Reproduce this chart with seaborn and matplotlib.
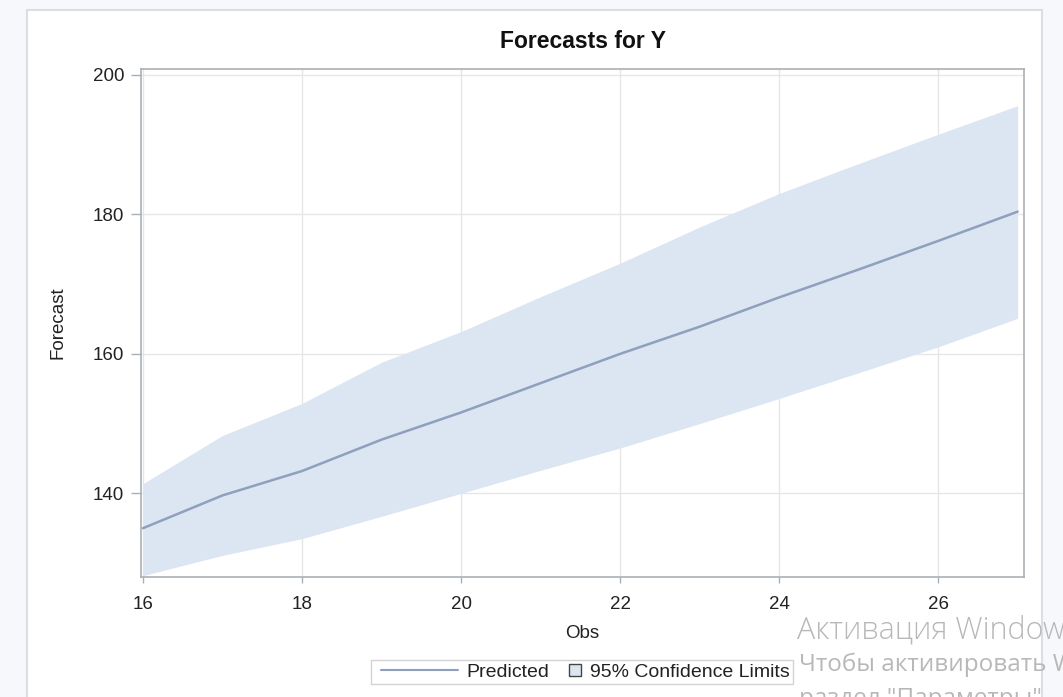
import matplotlib
matplotlib.use("Agg")
import matplotlib.pyplot as plt
import matplotlib.patches as mpatches
from matplotlib.lines import Line2D
from matplotlib.legend_handler import HandlerBase
import seaborn as sns
import pandas as pd

obs = [16, 17, 18, 19, 20, 21, 22, 23, 24, 25, 26, 27]
predicted = [135.0, 139.7, 143.2, 147.7, 151.6, 155.8, 160.0, 163.9, 168.1, 172.1, 176.2, 180.4]
upper = [141.4, 148.3, 152.9, 158.8, 163.2, 168.2, 173.0, 178.2, 183.0, 187.3, 191.5, 195.6]
lower = [128.2, 131.1, 133.5, 136.7, 140.0, 143.3, 146.5, 150.0, 153.6, 157.3, 161.0, 165.1]
x_ticks = [16, 18, 20, 22, 24, 26]
y_ticks = [140, 160, 180, 200]

df = pd.DataFrame({"Obs": obs, "Forecast": predicted, "U": upper, "L": lower})

sns.set_theme(style="white")
plt.rcParams['font.family'] = ['Liberation Sans', 'DejaVu Sans']

W, H = 1063, 697
fig = plt.figure(figsize=(W / 100, H / 100), dpi=100)
fig.patch.set_facecolor('#f7f8fc')
panel = mpatches.Rectangle((27 / W, -0.05), (1042 - 27) / W, 1.05 - 10 / H, transform=fig.transFigure,
                           facecolor='white', edgecolor='#dcdfe2', linewidth=1.5, zorder=-5)
fig.patches.append(panel)

ax = fig.add_axes([141 / W, 1 - 577 / H, (1024 - 141) / W, (577 - 69) / H])
ax.set_facecolor('white')

band_color = '#dce6f2'
line_color = '#8ea0bc'
ax.fill_between(df["Obs"], df["L"], df["U"], color=band_color, linewidth=0, zorder=2)
sns.lineplot(data=df, x="Obs", y="Forecast", ax=ax, color=line_color, linewidth=1.8, zorder=3)

ax.set_xlim(15.975, 27.08)
ax.set_ylim(128.0, 200.86)
ax.set_xticks(x_ticks)
ax.set_yticks(y_ticks)
ax.grid(True, color='#e6e6e6', linewidth=1.0, zorder=1)
ax.set_axisbelow(True)
for s in ax.spines.values():
    s.set_color('#a9b0b4')
    s.set_linewidth(1.2)
ax.tick_params(axis='y', direction='out', length=7, width=1, color='#a9b0b4',
               labelsize=13.5, labelcolor='#222222', pad=5, left=True)
ax.tick_params(axis='x', direction='out', length=4, width=1, color='#a9b0b4',
               labelsize=13.5, labelcolor='#222222', pad=9.5, bottom=True)
ax.set_xlabel("Obs", fontsize=13.5, color='#222222', labelpad=9)
ax.set_ylabel("Forecast", fontsize=13.5, color='#222222', labelpad=19)
ax.set_title("Forecasts for Y", fontsize=16.5, fontweight='bold', color='#111111', pad=15)


class LineHandler(HandlerBase):
    def create_artists(self, legend, orig_handle, xdescent, ydescent, width, height, fontsize, trans):
        y = height / 2 - ydescent
        off = 5.0
        ln = Line2D([-xdescent + off, -xdescent + width], [y, y], color=line_color, linewidth=1.5,
                    transform=trans)
        return [ln]


class SquareHandler(HandlerBase):
    def create_artists(self, legend, orig_handle, xdescent, ydescent, width, height, fontsize, trans):
        s = 8.5
        y = height / 2 - ydescent
        r = mpatches.Rectangle((-xdescent + width - s, y - s / 2), s, s, facecolor=band_color,
                               edgecolor='#444444', linewidth=1.0, transform=trans)
        return [r]


h_line = Line2D([0], [0], color=line_color)
h_band = mpatches.Patch(facecolor=band_color)
leg = fig.legend([h_line, h_band], ["Predicted", "95% Confidence Limits"], loc='center',
                 bbox_to_anchor=(582 / W, 1 - 672 / H), ncol=2, frameon=True, fontsize=14,
                 handlelength=4.28, handletextpad=0.45, columnspacing=-2.63, borderpad=0.15,
                 borderaxespad=0, fancybox=False,
                 handler_map={Line2D: LineHandler(), mpatches.Patch: SquareHandler()})
leg.get_frame().set_edgecolor('#c8c8c8')
leg.get_frame().set_linewidth(1.0)
for t in leg.get_texts():
    t.set_color('#222222')

# Windows activation watermark overlay
wm = dict(color='#b8b8b8', ha='left', va='baseline', family=['Open Sans', 'DejaVu Sans'], zorder=10)
fig.text(797 / W, 1 - 638 / H, "Активация Windows", fontsize=22, fontweight='light', **wm)
fig.text(799 / W, 1 - 671 / H, "Чтобы активировать Windows, перейдите в", fontsize=17.5, **wm)
fig.text(799 / W, 1 - 705 / H, "раздел \"Параметры\".", fontsize=17.5, **wm)

fig.savefig("out.png", dpi=100)
